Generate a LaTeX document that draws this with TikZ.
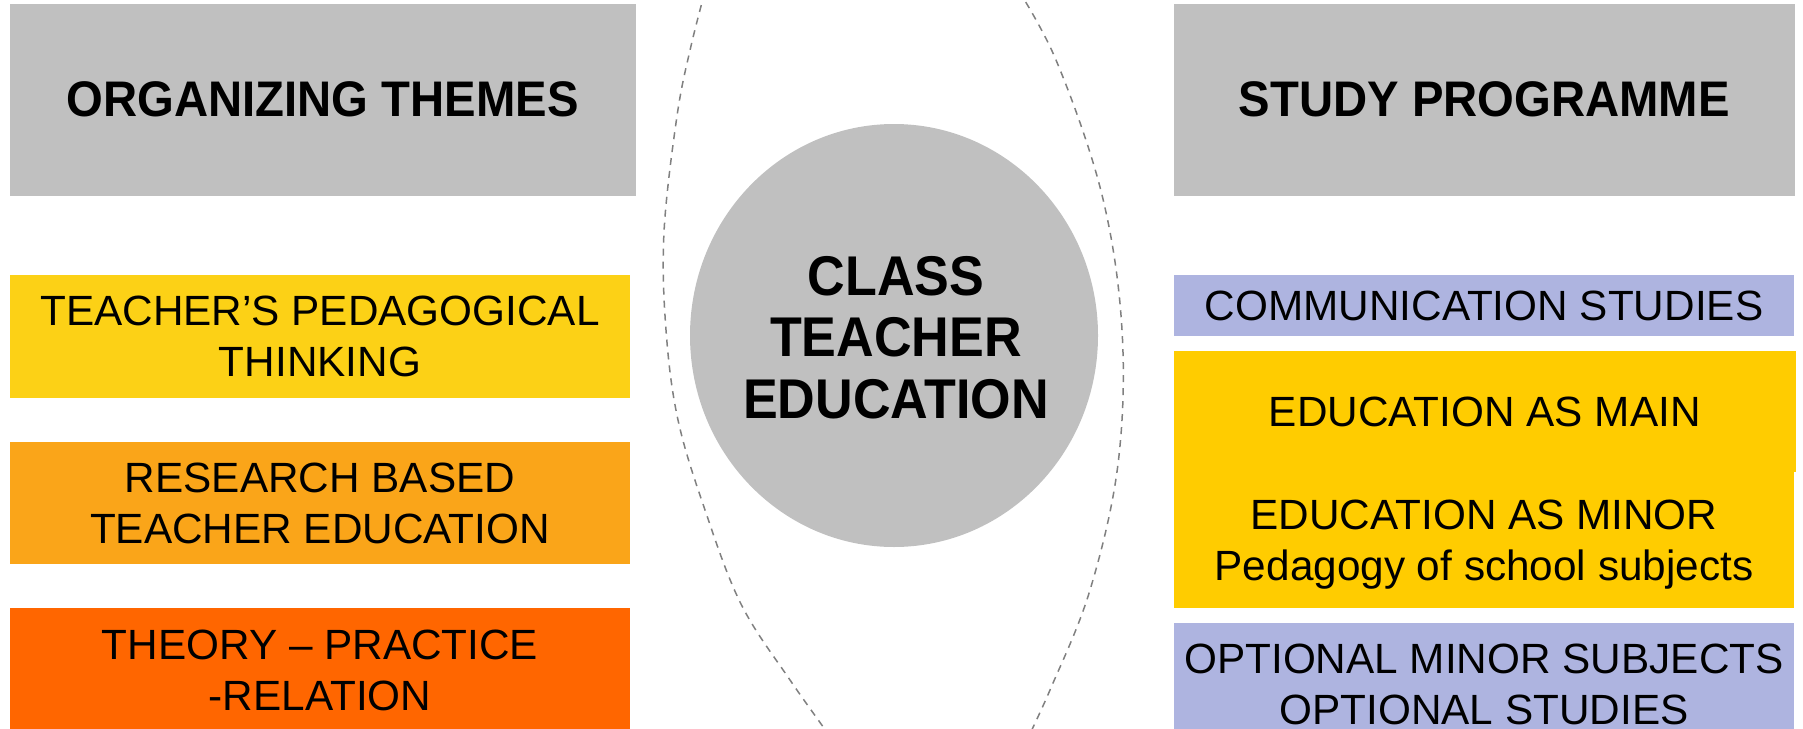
\documentclass[tikz,border=0pt]{standalone}
\usepackage{fontspec}
\setmainfont{Liberation Sans}
\newfontfamily\hdrfont[FakeStretch=0.945]{Liberation Sans}
\newfontfamily\ctrfont[FakeStretch=0.93]{Liberation Sans}
\definecolor{hdrgray}{RGB}{192,192,192}
\definecolor{circgray}{RGB}{192,192,192}
\definecolor{yelA}{RGB}{252,209,22}
\definecolor{orgA}{RGB}{250,165,25}
\definecolor{orgB}{RGB}{255,102,0}
\definecolor{yelB}{RGB}{255,204,0}
\definecolor{lav}{RGB}{174,180,224}
\definecolor{lensgray}{RGB}{128,128,128}
\begin{document}
\begin{tikzpicture}[x=1pt,y=-1pt,
  box/.style={rectangle, inner sep=0pt, outer sep=0pt, align=center,
    font=\fontsize{42.3}{51}\selectfont, text depth=0pt},
  hdr/.style={rectangle, fill=hdrgray, inner sep=0pt, outer sep=0pt,
    font=\hdrfont\bfseries\fontsize{50}{60}\selectfont},
  lens/.style={draw=lensgray, line width=1.5pt, dash pattern=on 7pt off 6pt}]
\useasboundingbox (0,0) rectangle (1803,728);
\clip (0,0) rectangle (1803,728);

% dashed lens
\draw[lens] plot[smooth, tension=0.6] coordinates {(708,-20) (691,46) (677,116) (664,232) (666,330) (678,420) (705,510) (741,604) (790,680) (840,750)};
\draw[lens] plot[smooth, tension=0.6] coordinates {(1012,-20) (1056,60) (1102,195) (1122,330) (1118,464) (1090,590) (1050,690) (1022,750)};

% headers
\node[hdr, minimum width=626.5pt, minimum height=192.5pt] (orgthemes) at (322.75,99.75) {ORGANIZING THEMES};
\node[hdr, minimum width=620.5pt, minimum height=192.5pt] (studyprog) at (1484.25,99.75) {STUDY PROGRAMME};

% left column
\node[box, fill=yelA, minimum width=620pt, minimum height=123pt] (thinking) at (320,336.5) {TEACHER’S PEDAGOGICAL\\THINKING};
\node[box, fill=orgA, minimum width=620pt, minimum height=122pt] (research) at (320,503) {RESEARCH BASED\\TEACHER EDUCATION};
\node[box, fill=orgB, minimum width=620pt, minimum height=124pt] (theory) at (320,670) {THEORY – PRACTICE\\-RELATION};

% right column
\node[box, fill=lav, minimum width=620pt, minimum height=61pt] (comm) at (1484,305.5) {COMMUNICATION STUDIES};
\node[box, fill=yelB, minimum width=621.5pt, minimum height=121pt] (edmain) at (1484.75,411.5) {EDUCATION AS MAIN};
\node[box, fill=yelB, minimum width=620pt, minimum height=136pt] (edminor) at (1484,540) {EDUCATION AS MINOR\\Pedagogy of school subjects};
\node[box, fill=lav, minimum width=620pt, minimum height=122pt] (optional) at (1484,684) {OPTIONAL MINOR SUBJECTS\\OPTIONAL STUDIES};

% centre
\fill[circgray] (894,335.5) ellipse [x radius=204, y radius=211.5];
\node[inner sep=0pt, align=center, text depth=0pt,
  font=\ctrfont\bfseries\fontsize{56}{61.5}\selectfont] (cte) at (896,337) {CLASS\\TEACHER\\EDUCATION};
\end{tikzpicture}
\end{document}
